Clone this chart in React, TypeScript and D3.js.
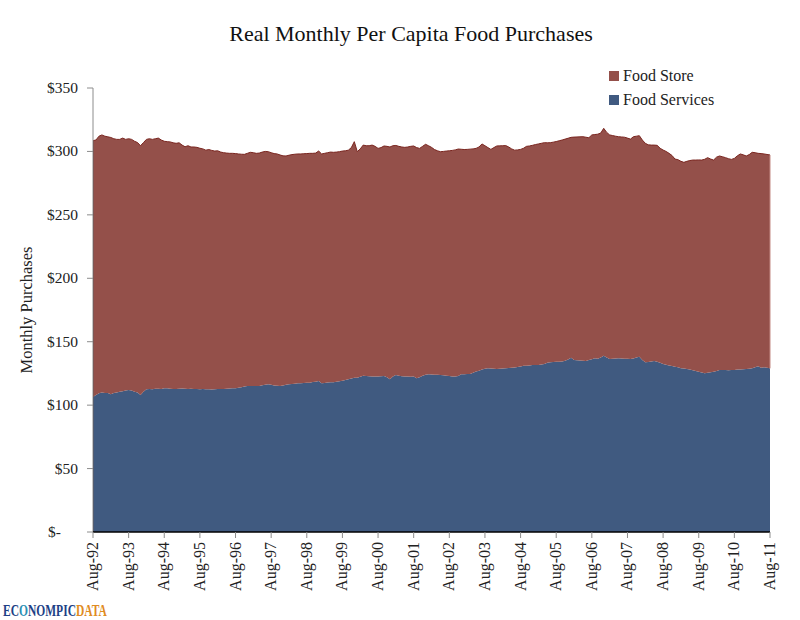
import React from 'react';
import * as d3 from 'd3';

// Monthly values, Aug-92 .. Aug-11 (229 months)
const foodServices: number[] = [
  106.5, 108, 109.3, 110, 109.6, 109.6, 108.6, 109.5, 110, 110.6, 111, 111.5,
  111.9, 111.5, 110.6, 110, 108, 110.5, 112.5, 112.8, 112.5, 113, 113, 112.8,
  113.3, 113.3, 113, 112.8, 112.7, 113, 113.2, 113, 112.8, 113, 112.7, 112.7,
  112.5, 112.7, 112.5, 112.5, 112.3, 112.6, 112.7, 112.7, 112.8, 113, 113.2, 113.3,
  113.3, 113.8, 114.2, 114.6, 115, 115.1, 115, 115.1, 115.1, 115.6, 116, 116.4,
  116, 115.5, 115.2, 115.1, 115.5, 116, 116.4, 116.6, 116.9, 117.2, 117.3, 117.5,
  117.6, 117.7, 118.3, 118.5, 119, 117.2, 117.5, 117.8, 118, 118, 118.4, 118.8,
  119.2, 119.8, 120.4, 121, 121.5, 121.5, 122.4, 123.2, 123, 122.8, 122.6, 122.5,
  122.6, 122.8, 123, 122, 120.4, 122.5, 123.8, 123.2, 122.8, 122.5, 122.5, 122.4,
  122.5, 121.2, 122, 123.2, 124, 124.3, 124.2, 124, 123.9, 123.8, 123.5, 123.2,
  122.9, 122.6, 122.5, 123, 124.3, 124.4, 124.5, 124.6, 125.5, 126.5, 127.2, 128,
  128.6, 129.1, 128.9, 128.7, 128.5, 128.7, 128.9, 129.1, 129.3, 129.5, 129.6, 130,
  130.5, 131, 131.1, 131.3, 131.6, 131.6, 131.6, 132, 132.5, 133.5, 133.8, 134,
  134.2, 134.3, 134.5, 135, 136, 137.4, 135.6, 135.3, 135.1, 134.9, 134.8, 135.5,
  136.2, 136.9, 136.5, 137.5, 139, 137.5, 136.4, 136.6, 136.8, 136.9, 136.8, 136.6,
  136.5, 136.4, 136.8, 137.5, 138.2, 135.5, 133.8, 134, 134.5, 134.8, 134.3, 133.5,
  132.4, 131.8, 131.2, 130.8, 130.3, 129.8, 129.1, 128.8, 128.5, 128, 127.5, 126.9,
  126.3, 125.8, 125.1, 125.5, 125.9, 126.3, 127, 127.7, 127.7, 127.7, 127.6, 127.7,
  127.8, 128, 128.1, 128.2, 128.4, 128.7, 129, 129.8, 130.6, 129.4, 129.8, 129.5,
  129,
];

const foodStore: number[] = [
  202, 201, 202.7, 203, 202.4, 201.9, 202.4, 200.5, 199.5, 198.9, 199.5, 198,
  198.1, 198, 197.4, 197, 196.5, 196.5, 197, 197.2, 197, 197, 197.5, 196.2,
  194.7, 194.4, 194.5, 194, 193.7, 193.8, 191.8, 190.7, 191.7, 190.5, 190.8, 190.5,
  190, 189.3, 188.5, 189, 188.5, 187.7, 187.8, 186.8, 186.2, 185.7, 185.3, 185.2,
  185, 184.2, 183.6, 183.1, 183.5, 184.2, 184, 183.4, 183.6, 183.9, 184, 183.4,
  183, 182.8, 182.8, 182.1, 181, 180.4, 180.6, 180.9, 180.9, 180.8, 180.7, 180.7,
  180.7, 180.8, 180.2, 180.2, 181.3, 180.8, 181, 181.2, 181.5, 181.3, 181.1, 181,
  181.1, 180.7, 180.6, 182, 186.2, 178.3, 179.6, 181.8, 181.5, 181.7, 182.4, 181.5,
  179.8, 180.2, 181.3, 182, 183.1, 182, 180.9, 180.8, 180.7, 180.7, 181, 181.6,
  181.8, 181.8, 180.4, 180.8, 181.6, 180.2, 179, 177.5, 176.6, 176, 176.5, 177.1,
  177.6, 178.2, 178.7, 178.9, 177.4, 177.1, 177.1, 177.2, 176.5, 175.9, 176.3, 177.9,
  175.9, 173.9, 172.7, 174.3, 175.8, 175.7, 175.6, 175.5, 174.2, 172.5, 171.4, 171.2,
  171.1, 171.5, 172.9, 173, 173.2, 173.8, 174.3, 174.4, 174.4, 173.3, 173.1, 173.3,
  173.6, 174.1, 174.5, 174.7, 174.4, 173.7, 175.7, 176.1, 176.4, 176.7, 176.4, 175.3,
  176.8, 176.4, 177.1, 177, 179.2, 177.5, 176.6, 175.9, 175.2, 174.7, 174.6, 174.6,
  174, 173.3, 174.8, 174.5, 174.2, 173.5, 172.6, 171.2, 170.5, 170.2, 170.5, 169,
  168.7, 168.2, 167.3, 166, 163.7, 163.7, 163.1, 162.6, 163.7, 164.8, 165.7, 166.3,
  167, 167.4, 168.7, 169.6, 168.1, 166.9, 168.5, 168.7, 168.1, 167.4, 166.7, 166,
  166.7, 168.5, 169.9, 169.1, 168, 168.8, 170.3, 169.2, 167.9, 168.9, 168.2, 168.1,
  168.2,
];

const xTickLabels = [
  'Aug-92', 'Aug-93', 'Aug-94', 'Aug-95', 'Aug-96', 'Aug-97', 'Aug-98', 'Aug-99', 'Aug-00', 'Aug-01',
  'Aug-02', 'Aug-03', 'Aug-04', 'Aug-05', 'Aug-06', 'Aug-07', 'Aug-08', 'Aug-09', 'Aug-10', 'Aug-11',
];
const yTicks = [0, 50, 100, 150, 200, 250, 300, 350];
const seriesNames = ['Food Store', 'Food Services'];

const FONT = '"Liberation Serif", "Times New Roman", serif';
const STORE_COLOR = '#94504a';
const SERVICES_COLOR = '#405a80';

export default function App() {
  const left = 93, right = 770, top = 88, bottom = 532;
  const n = foodServices.length;
  const x = d3.scaleLinear().domain([0, n - 1]).range([left, right]);
  const y = d3.scaleLinear().domain([0, 350]).range([bottom, top]);

  const rows = foodServices.map((s, i) => ({ i, services: s, store: foodStore[i] }));
  const stacked = d3.stack<any>().keys(['services', 'store'])(rows);

  const area = d3.area<any>()
    .x((d) => x(d.data.i))
    .y0((d) => y(d[0]))
    .y1((d) => y(d[1]));
  const topLine = d3.line<any>()
    .x((d) => x(d.data.i))
    .y((d) => y(d[1]));

  const fmt = (v: number) => (v === 0 ? '$-' : `$${v}`);

  return (
    <div style={{ position: 'absolute', left: 0, top: 0 }}>
      <svg width={800} height={620} style={{ display: 'block', background: '#fff' }}>
        <text x={411} y={41} textAnchor="middle" fontFamily={FONT} fontSize={22} fill="#111">
          Real Monthly Per Capita Food Purchases
        </text>

        {/* areas */}
        <path d={area(stacked[0]) || ''} fill={SERVICES_COLOR} />
        <path d={area(stacked[1]) || ''} fill={STORE_COLOR} />
        <path d={topLine(stacked[1]) || ''} fill="none" stroke="#7a2620" strokeWidth={1} />
        <line x1={right} x2={right} y1={y(stacked[1][n - 1][1])} y2={y(stacked[1][n - 1][0])} stroke="#c48a84" strokeWidth={1} />
        <line x1={left + 0.5} x2={left + 0.5} y1={y(stacked[1][0][1])} y2={y(stacked[1][0][0])} stroke="#6e2520" strokeWidth={1} />
        <line x1={left + 0.5} x2={left + 0.5} y1={y(stacked[0][0][1])} y2={bottom} stroke="#1f2f55" strokeWidth={1} />

        {/* y axis */}
        <line x1={left} x2={left} y1={top} y2={bottom} stroke="#8c8c8c" strokeWidth={1} />
        {yTicks.map((t) => (
          <g key={t}>
            <line x1={left - 6} x2={left} y1={y(t)} y2={y(t)} stroke="#8c8c8c" strokeWidth={1} />
            <text
              x={t === 0 ? 61 : 78}
              y={y(t) + 5}
              textAnchor="end"
              fontFamily={FONT}
              fontSize={15.5}
              fill="#222"
            >
              {fmt(t)}
            </text>
          </g>
        ))}
        <text
          transform={`translate(32, 310) rotate(-90)`}
          textAnchor="middle"
          fontFamily={FONT}
          fontSize={16.5}
          fill="#222"
        >
          Monthly Purchases
        </text>

        {/* x axis */}
        <line x1={left} x2={right} y1={bottom} y2={bottom} stroke="#000" strokeWidth={1.5} />
        {xTickLabels.map((lab, k) => {
          const tx = x(k * 12);
          return (
            <g key={lab}>
              <line x1={tx} x2={tx} y1={bottom} y2={bottom + 6} stroke="#8c8c8c" strokeWidth={1} />
              <text
                transform={`translate(${tx + 5}, ${bottom + 10}) rotate(-90)`}
                textAnchor="end"
                fontFamily={FONT}
                fontSize={16}
                fill="#222"
              >
                {lab}
              </text>
            </g>
          );
        })}

        {/* legend */}
        {seriesNames.map((name, k) => (
          <g key={name} transform={`translate(609, ${71 + k * 24})`}>
            <rect x={0} y={0} width={10} height={10} fill={k === 0 ? STORE_COLOR : SERVICES_COLOR} />
            <text x={14} y={10} fontFamily={FONT} fontSize={16} fill="#222">
              {name}
            </text>
          </g>
        ))}

        {/* logo */}
        <g transform="translate(3, 616) scale(0.72, 1)">
          <text x={0} y={0} fontFamily={FONT} fontWeight="bold" fontSize={16}>
            <tspan fill="#1d3f86">EC</tspan>
            <tspan fill="#2b8fb3">O</tspan>
            <tspan fill="#1d3f86">NOMPIC</tspan>
            <tspan fill="#e08b22">DATA</tspan>
          </text>
        </g>
      </svg>
    </div>
  );
}
